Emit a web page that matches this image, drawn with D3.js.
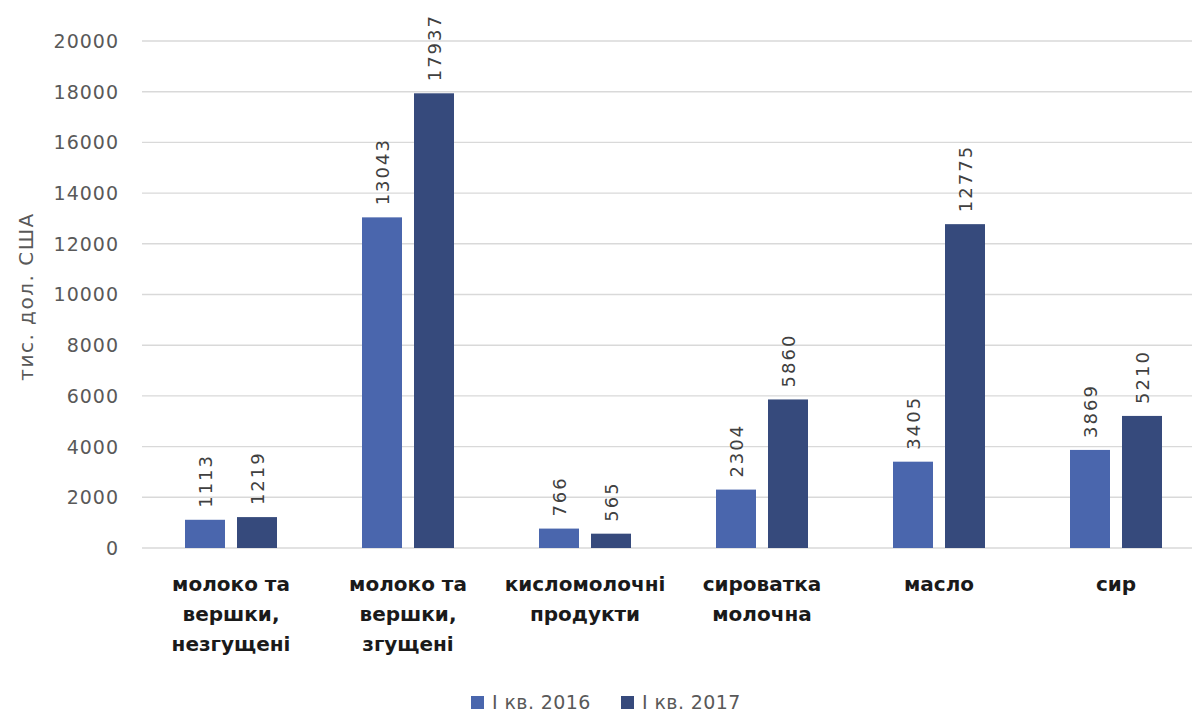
<!DOCTYPE html>
<html><head><meta charset="utf-8">
<script src="https://cdn.jsdelivr.net/npm/d3@7"></script>
<style>body{margin:0;background:#fff}svg{display:block}</style>
</head><body>
<script>
const categories = [
  ["молоко та","вершки,","незгущені"],
  ["молоко та","вершки,","згущені"],
  ["кисломолочні","продукти"],
  ["сироватка","молочна"],
  ["масло"],
  ["сир"]
];
const seriesNames = ["І кв. 2016", "І кв. 2017"];
const values2016 = [1113, 13043, 766, 2304, 3405, 3869];
const values2017 = [1219, 17937, 565, 5860, 12775, 5210];
const yTicks = [0,2000,4000,6000,8000,10000,12000,14000,16000,18000,20000];
const colors = ["#4a66ad", "#364a7c"];

const W = 1192, H = 715;
const svg = d3.select("body").append("svg").attr("width", W).attr("height", H);
const font = "'DejaVu Sans', Verdana, sans-serif";
const x = d3.scaleBand().domain(d3.range(categories.length)).range([142.5, 1204.5]);
const y = d3.scaleLinear().domain([0, 20000]).range([548, 41]);

// gridlines
svg.append("g").selectAll("line").data(yTicks).join("line")
  .attr("x1", 142).attr("x2", W)
  .attr("y1", d => y(d)).attr("y2", d => y(d))
  .attr("stroke", "#d9d9d9").attr("stroke-width", 1.4);

// y axis labels
const yAxis = d3.axisLeft(y).tickValues(yTicks).tickSize(0).tickPadding(0).tickFormat(d3.format("d"));
const ga = svg.append("g").attr("transform", `translate(119,0)`).call(yAxis);
ga.select(".domain").remove();
ga.selectAll("text").attr("font-family", font).attr("font-size", 19).attr("letter-spacing", 1)
  .attr("fill", "#595959").attr("dy", "0.34em");

// y title
svg.append("text").attr("transform", `translate(33,${(y(0)+y(20000))/2 + 2}) rotate(-90)`)
  .attr("text-anchor", "middle").attr("font-family", font).attr("font-size", 20)
  .attr("letter-spacing", 1.5)
  .attr("fill", "#595959").text("тис. дол. США");

const bw = 40, gap = 12;
const series = [values2016, values2017];
series.forEach((vals, si) => {
  const g = svg.append("g");
  const bx = i => x(i) + x.bandwidth()/2 + (si === 0 ? -(gap/2 + bw) : gap/2);
  g.selectAll("rect").data(vals).join("rect")
    .attr("x", (d,i) => bx(i)).attr("width", bw)
    .attr("y", d => y(d)).attr("height", d => y(0) - y(d))
    .attr("fill", colors[si]);
  g.selectAll("text").data(vals).join("text")
    .attr("transform", (d,i) => `translate(${bx(i) + bw/2 + 7},${y(d) - 12}) rotate(-90)`)
    .attr("font-family", font).attr("font-size", 18).attr("fill", "#404040")
    .attr("letter-spacing", 2)
    .text(d => d);
});

// category labels
categories.forEach((lines, i) => {
  const t = svg.append("text").attr("text-anchor", "middle")
    .attr("font-family", font).attr("font-weight", "bold").attr("font-size", 20)
    .attr("fill", "#1a1a1a");
  lines.forEach((l, j) => t.append("tspan").attr("x", x(i) + x.bandwidth()/2).attr("y", 591 + j*30).text(l));
});

// legend
const lg = svg.append("g");
const lx = [471, 621];
seriesNames.forEach((n, i) => {
  lg.append("rect").attr("x", lx[i]).attr("y", 696).attr("width", 13).attr("height", 13).attr("fill", colors[i]);
  lg.append("text").attr("x", lx[i] + 21).attr("y", 709).attr("font-family", font).attr("font-size", 19)
    .attr("letter-spacing", 0.4)
    .attr("fill", "#595959").text(n);
});
</script>
</body></html>
